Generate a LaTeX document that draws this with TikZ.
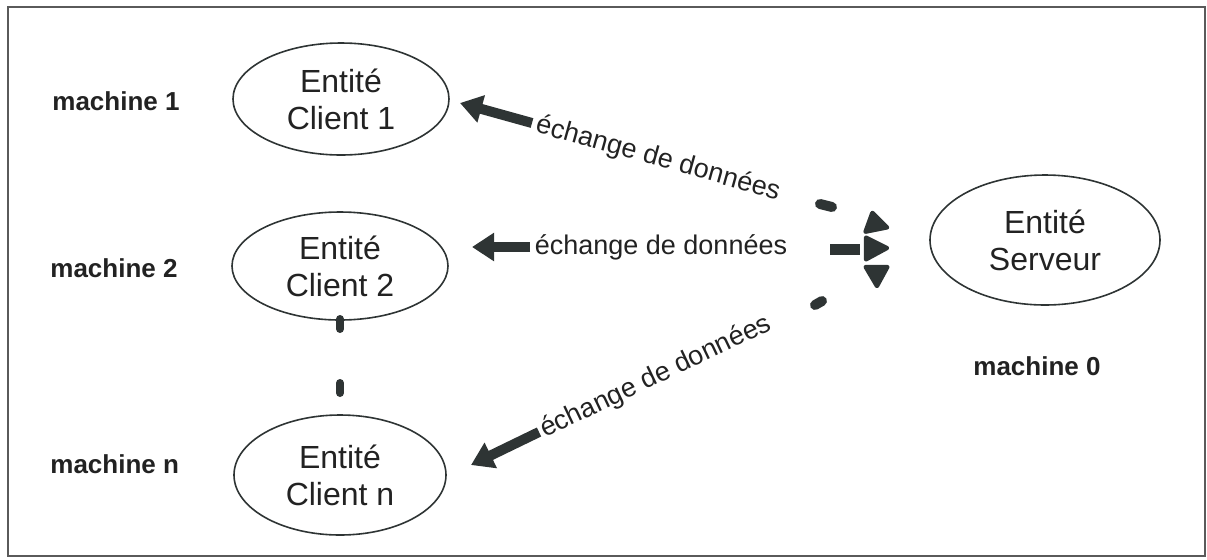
\documentclass[tikz,border=0pt]{standalone}
\usepackage{fontspec}
\setmainfont{Liberation Sans}
\usetikzlibrary{shapes.geometric,arrows.meta}
\definecolor{ink}{HTML}{2E3434}
\definecolor{textink}{HTML}{222222}
\definecolor{framegray}{HTML}{5A5A5A}

\begin{document}
\begin{tikzpicture}[x=0.5pt,y=-0.5pt,
  entity/.style={ellipse, draw=ink, line width=0.8pt, align=center,
    font=\fontsize{16}{18.5}\selectfont, text=textink, inner sep=0pt},
  machine/.style={font=\bfseries\fontsize{13}{15}\selectfont,
    anchor=base west, inner sep=0pt, text=textink},
  flowlabel/.style={font=\fontsize{13.5}{15}\selectfont, inner sep=0pt, text=textink},
  shaft/.style={draw=ink, line width=5pt, -{Triangle[length=11pt,width=13.5pt]}},
  dashpiece/.style={draw=ink, line width=5pt, line cap=round},
  head/.style={fill=ink, draw=ink, line width=1.2pt, line join=round, rounded corners=1pt},
]
\useasboundingbox (0,0) rectangle (1207,559);
\draw[framegray, line width=1.4pt] (8,7) rectangle (1205,556);

% entities
\node[entity, minimum width=108pt, minimum height=56pt] (c1) at (341,99) {Entité\\Client 1};
\node[entity, minimum width=108pt, minimum height=54pt] (c2) at (340,266) {Entité\\Client 2};
\node[entity, minimum width=106pt, minimum height=60pt] (cn) at (340,475) {Entité\\Client n};
\node[entity, minimum width=115pt, minimum height=65pt] (srv) at (1045,240) {Entité\\Serveur};

% machine labels
\node[machine] (m1) at (52,110) {machine 1};
\node[machine] (m2) at (50,277) {machine 2};
\node[machine] (mn) at (50,473) {machine n};
\node[machine] (m0) at (973,375) {machine 0};

% ellipsis between client 2 and client n
\coordinate (v1a) at (340,319); \coordinate (v1b) at (340,329);
\coordinate (v2a) at (340,383); \coordinate (v2b) at (340,393);
\draw[dashpiece, line width=4pt] (v1a) -- (v1b);
\draw[dashpiece, line width=4pt] (v2a) -- (v2b);

% exchange with client 1
\coordinate (s1) at (532,123); \coordinate (t1) at (460,103);
\draw[shaft] (s1) -- (t1);
\node[flowlabel, rotate=-15.6] (l1) at (658,159) {échange de données};
\coordinate (d1a) at (820,204); \coordinate (d1b) at (832,207);
\draw[dashpiece] (d1a) -- (d1b);
\path[head] (872,211) -- (889,228) -- (864,233) -- cycle;

% exchange with client 2
\coordinate (s2) at (530,247); \coordinate (t2) at (472,247);
\draw[shaft] (s2) -- (t2);
\node[flowlabel] (l2) at (661,247) {échange de données};
\coordinate (d2a) at (830,249); \coordinate (d2b) at (860,249);
\draw[dashpiece, line cap=butt, line width=5.5pt] (d2a) -- (d2b);
\path[head] (865,236) -- (889,248) -- (865,261) -- cycle;

% exchange with client n
\coordinate (s3) at (539,432); \coordinate (t3) at (471,465);
\draw[shaft] (s3) -- (t3);
\node[flowlabel, rotate=25.5] (l3) at (656,377) {échange de données};
\coordinate (d3a) at (815,305); \coordinate (d3b) at (822,301);
\draw[dashpiece] (d3a) -- (d3b);
\path[head] (864,266) -- (889,266) -- (877,288) -- cycle;
\end{tikzpicture}
\end{document}
